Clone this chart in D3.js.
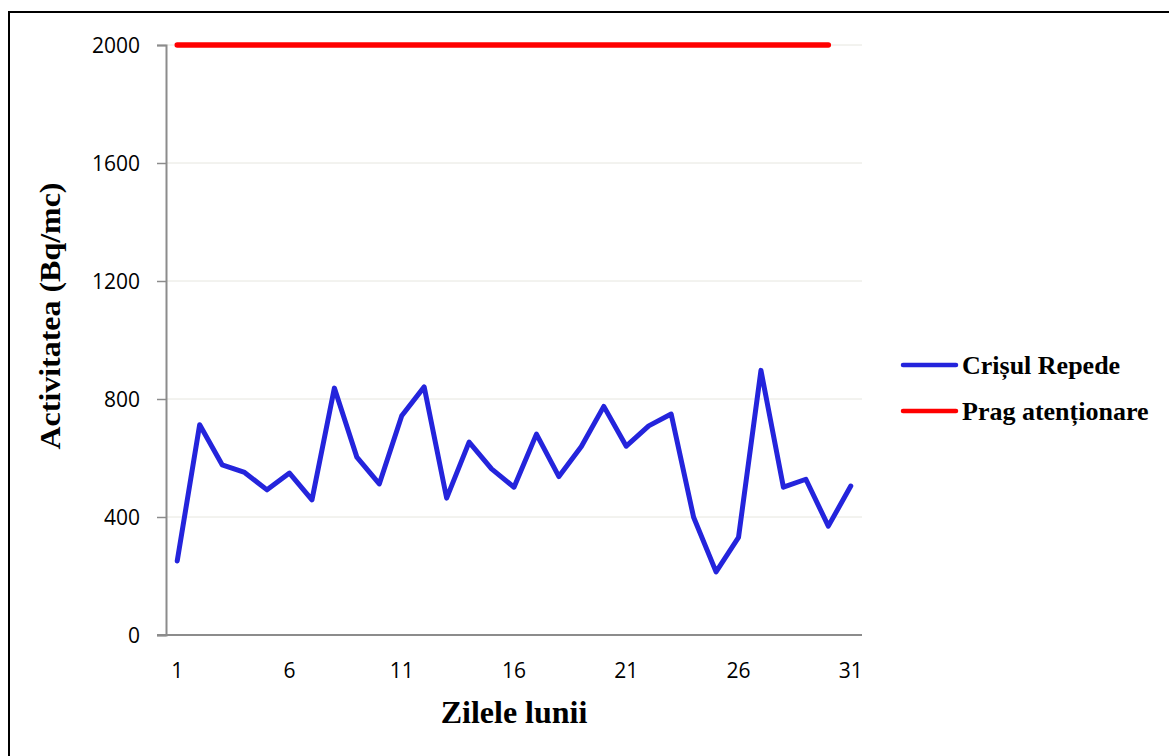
<!DOCTYPE html>
<html>
<head>
<meta charset="utf-8">
<script src="https://cdn.jsdelivr.net/npm/d3@7"></script>
<style>
  html, body { margin: 0; padding: 0; background: #fff; }
  svg { display: block; }
</style>
</head>
<body>
<svg id="chart" width="1169" height="756"></svg>
<script>
// days of the month
const days = d3.range(1, 32);
// measured activity, Crișul Repede (Bq/mc)
const crisulRepede = [251, 713, 577, 551, 492, 549, 458, 837, 603, 512,
  743, 841, 464, 654, 563, 501, 681, 537, 639, 775,
  640, 709, 749, 399, 214, 331, 897, 501, 528, 369, 505];
// alert threshold, drawn for days 1-30
const pragDays = d3.range(1, 31);
const pragValues = pragDays.map(() => 2000);
const yTicks = [0, 400, 800, 1200, 1600, 2000];
const xTickLabels = [1, 6, 11, 16, 21, 26, 31];

const seriesNames = ["Crișul Repede", "Prag atenționare"];
const seriesColors = ["#2424dc", "#ff0000"];

function drawChart() {
  const svg = d3.select("#chart");
  svg.selectAll("*").remove();

  const left = 166, right = 862, top = 45, bottom = 635;

  const x = d3.scaleBand().domain(days).range([left, right]).paddingInner(0).paddingOuter(0);
  const cx = d => x(d) + x.bandwidth() / 2;
  const y = d3.scaleLinear().domain([0, 2000]).range([bottom, top]);

  // outer frame (only left and top edges visible in the crop)
  svg.append("path")
    .attr("d", "M9,760 L9,12 L1175,12")
    .attr("fill", "none")
    .attr("stroke", "#000")
    .attr("stroke-width", 2);

  // gridlines
  svg.append("g")
    .selectAll("line")
    .data(yTicks.filter(t => t > 0))
    .enter()
    .append("line")
    .attr("x1", left)
    .attr("x2", right)
    .attr("y1", d => y(d))
    .attr("y2", d => y(d))
    .attr("stroke", "#e6e6df")
    .attr("stroke-width", 1);

  // y axis
  const yAxis = svg.append("g")
    .attr("transform", `translate(${left},0)`)
    .call(d3.axisLeft(y).tickValues(yTicks).tickSize(9).tickPadding(17).tickFormat(d3.format("d")));
  yAxis.select(".domain").attr("stroke", "#8c8c8c").attr("stroke-width", 2);
  yAxis.selectAll(".tick line").attr("stroke", "#8c8c8c").attr("stroke-width", 1.5);
  yAxis.selectAll(".tick text")
    .attr("fill", "#000")
    .style("font-family", "'Open Sans', sans-serif")
    .style("font-size", "21px")
    .attr("dy", "0.35em");

  // x axis
  const xAxis = svg.append("g")
    .attr("transform", `translate(0,${bottom})`)
    .call(d3.axisBottom(x).tickValues(xTickLabels).tickSize(0).tickPadding(28));
  xAxis.select(".domain")
    .attr("d", `M${left - 9},0H${right}`)
    .attr("stroke", "#8c8c8c")
    .attr("stroke-width", 2);
  xAxis.selectAll(".tick text")
    .attr("fill", "#000")
    .style("font-family", "'Open Sans', sans-serif")
    .style("font-size", "21px");

  const line = d3.line().x(d => cx(d[0])).y(d => y(d[1]));

  // threshold
  svg.append("path")
    .datum(pragDays.map((d, i) => [d, pragValues[i]]))
    .attr("d", line)
    .attr("fill", "none")
    .attr("stroke", seriesColors[1])
    .attr("stroke-width", 5.5)
    .attr("stroke-linecap", "round");

  // measured series
  svg.append("path")
    .datum(days.map((d, i) => [d, crisulRepede[i]]))
    .attr("d", line)
    .attr("fill", "none")
    .attr("stroke", seriesColors[0])
    .attr("stroke-width", 5)
    .attr("stroke-linejoin", "round")
    .attr("stroke-linecap", "round");

  // axis titles
  svg.append("text")
    .attr("x", 514)
    .attr("y", 723)
    .attr("text-anchor", "middle")
    .style("font-family", "'Liberation Serif', 'Times New Roman', serif")
    .style("font-weight", "bold")
    .style("font-size", "32px")
    .text("Zilele lunii");

  svg.append("text")
    .attr("transform", "translate(60,316) rotate(-90)")
    .attr("text-anchor", "middle")
    .attr("textLength", 267)
    .attr("lengthAdjust", "spacingAndGlyphs")
    .style("font-family", "'Liberation Serif', 'Times New Roman', serif")
    .style("font-weight", "bold")
    .style("font-size", "29px")
    .text("Activitatea (Bq/mc)");

  // legend
  const legend = svg.append("g");
  const legendY = [365, 411];
  seriesNames.forEach((name, i) => {
    legend.append("line")
      .attr("x1", 903).attr("x2", 956)
      .attr("y1", legendY[i]).attr("y2", legendY[i])
      .attr("stroke", seriesColors[i])
      .attr("stroke-width", 4.5)
      .attr("stroke-linecap", "round");
    legend.append("text")
      .attr("x", 962)
      .attr("y", legendY[i] + 9)
      .style("font-family", "'Liberation Serif', 'Times New Roman', serif")
      .style("font-weight", "bold")
      .style("font-size", "26px")
      .text(name);
  });
}

drawChart();
</script>
</body>
</html>
